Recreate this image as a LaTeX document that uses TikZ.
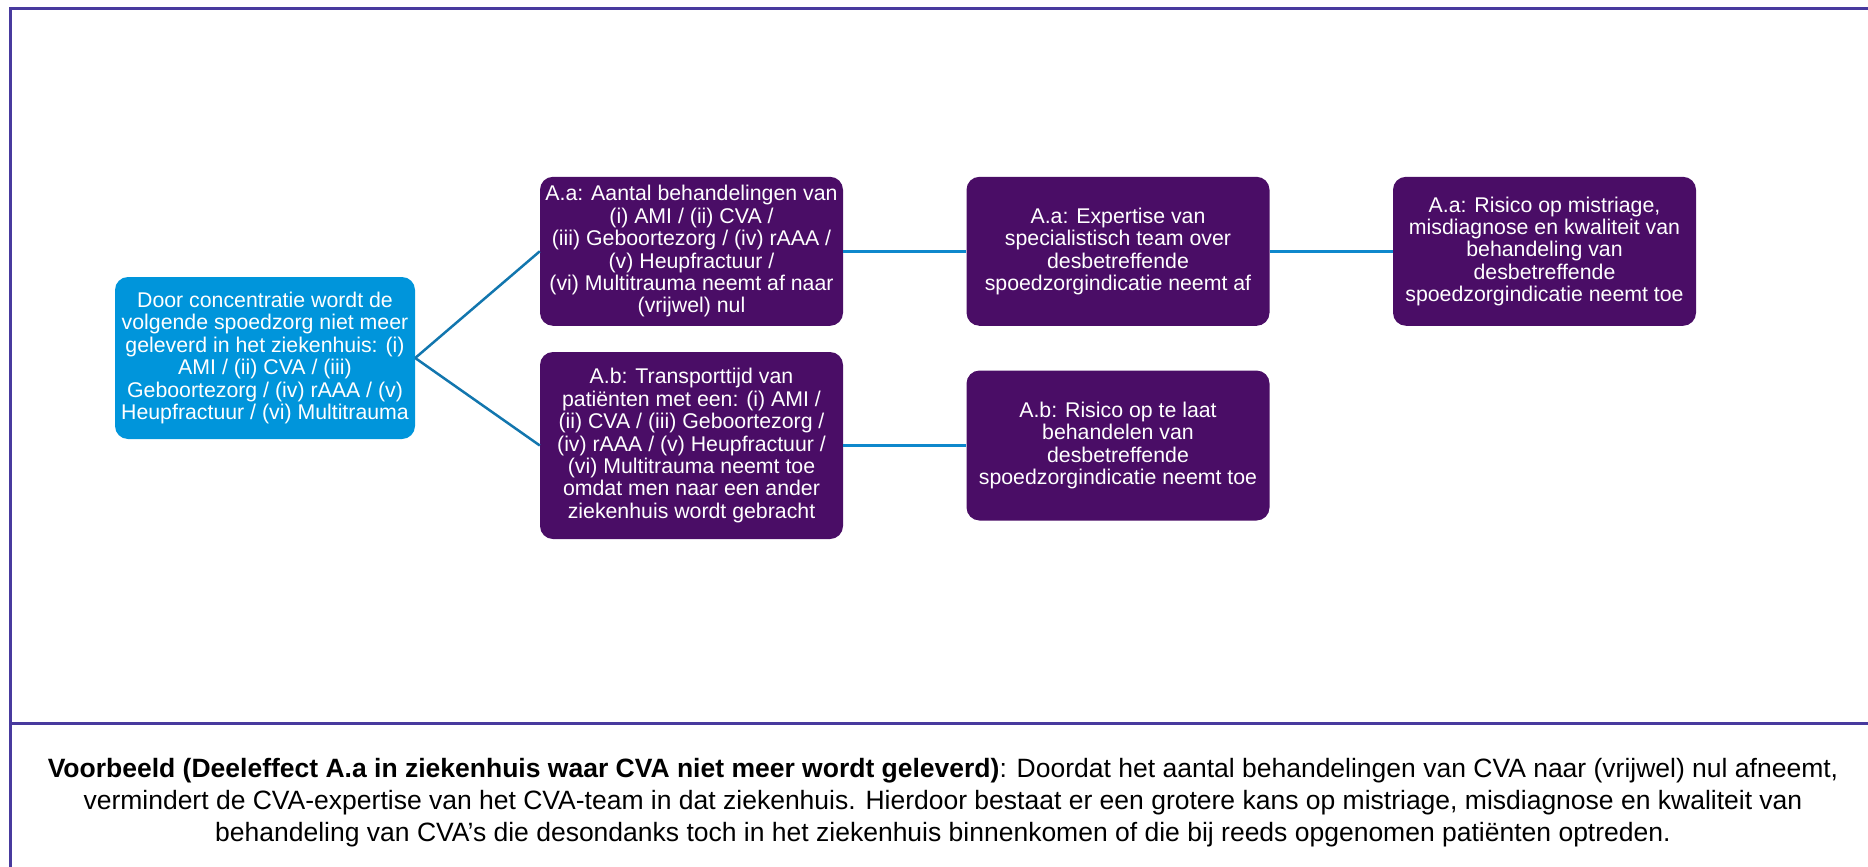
\documentclass[tikz,border=0pt]{standalone}
\usepackage{fontspec}
\setmainfont{Liberation Sans}
\definecolor{framepurple}{RGB}{72,58,158}
\definecolor{causeblue}{RGB}{0,149,219}
\definecolor{effectpurple}{RGB}{74,13,102}
\definecolor{linkdark}{RGB}{18,118,174}
\definecolor{linklight}{RGB}{14,136,204}
\begin{document}
\begin{tikzpicture}[x=1pt,y=-1pt,
        base/.style={rectangle,rounded corners=13pt,text=white,align=center,inner sep=2pt,
            font=\fontsize{21.3}{22.4}\selectfont},
        cause/.style={base,fill=causeblue,minimum width=300pt,minimum height=162pt},
        effect/.style={base,fill=effectpurple,minimum width=303pt,minimum height=149pt},
        slant/.style={draw=linkdark,line width=2.5pt},
        flat/.style={draw=linklight,line width=2.8pt},
        frame/.style={draw=framepurple,line width=3pt}]
        \useasboundingbox (0,0) rectangle (1868,867);
        % Frame
        \draw[frame] (1868,9) -- (10,9) -- (10,867);
        \draw[frame] (10,723) -- (1868,723);
        % Cause
        \node[cause] (c) at (265,358) {Door concentratie wordt de\\volgende spoedzorg niet meer\\geleverd in het ziekenhuis: (i)\\AMI / (ii) CVA / (iii)\\Geboortezorg / (iv) rAAA / (v)\\Heupfractuur / (vi) Multitrauma};
        % Upper row
        \node[effect] (a1) at (691.5,251.3) {A.a: Aantal behandelingen van\\(i) AMI / (ii) CVA /\\(iii) Geboortezorg / (iv) rAAA /\\(v) Heupfractuur /\\(vi) Multitrauma neemt af naar\\(vrijwel) nul};
        \node[effect] (a2) at (1118,251.3) {A.a: Expertise van\\specialistisch team over\\desbetreffende\\spoedzorgindicatie neemt af};
        \node[effect] (a3) at (1544.5,251.3) {A.a: Risico op mistriage,\\misdiagnose en kwaliteit van\\behandeling van\\desbetreffende\\spoedzorgindicatie neemt toe};
        % Lower row
        \node[effect,minimum height=187pt] (b1) at (691.5,445.5) {A.b: Transporttijd van\\patiënten met een: (i) AMI /\\(ii) CVA / (iii) Geboortezorg /\\(iv) rAAA / (v) Heupfractuur /\\(vi) Multitrauma neemt toe\\omdat men naar een ander\\ziekenhuis wordt gebracht};
        \node[effect,minimum height=150pt] (b2) at (1118,445.5) {A.b: Risico op te laat\\behandelen van\\desbetreffende\\spoedzorgindicatie neemt toe};
        % Links
        \draw[slant] (c.east) -- (a1.west);
        \draw[slant] (c.east) -- (b1.west);
        \draw[flat] (a1.east) -- (a2.west);
        \draw[flat] (a2.east) -- (a3.west);
        \draw[flat] (b1.east) -- (b2.west);
        % Example text
        \node[align=center,font=\fontsize{26.5}{32}\selectfont] (ex) at (943,803) {\textbf{Voorbeeld (Deeleffect A.a in ziekenhuis waar CVA niet meer wordt geleverd)}: Doordat het aantal behandelingen van CVA naar (vrijwel) nul afneemt,\\vermindert de CVA-expertise van het CVA-team in dat ziekenhuis. Hierdoor bestaat er een grotere kans op mistriage, misdiagnose en kwaliteit van\\behandeling van CVA’s die desondanks toch in het ziekenhuis binnenkomen of die bij reeds opgenomen patiënten optreden.};
    \end{tikzpicture}
\end{document}
